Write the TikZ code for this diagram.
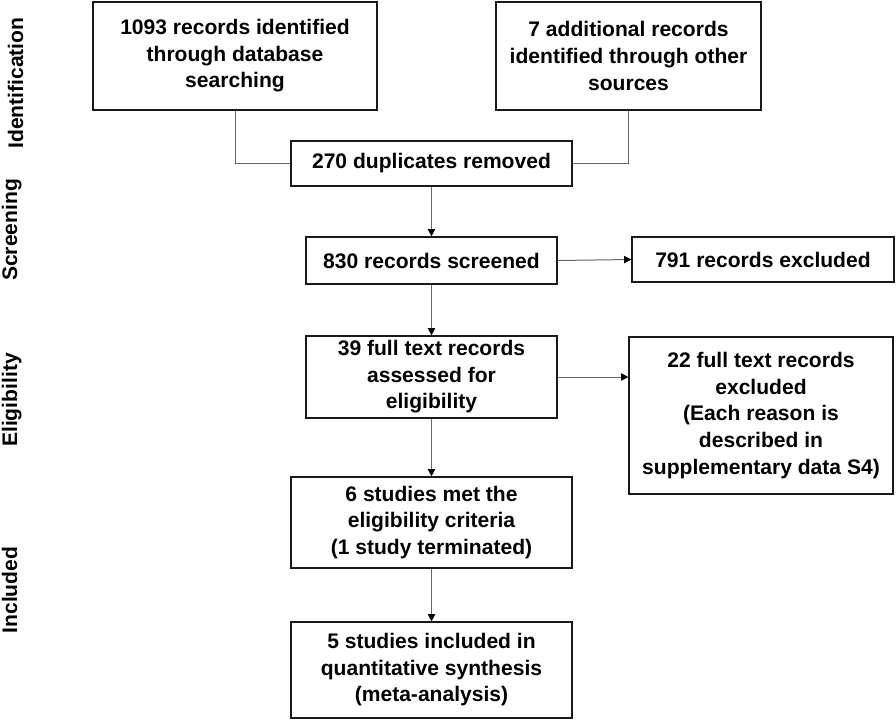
\documentclass[tikz,border=0pt]{standalone}
\usepackage{fontspec}
\setmainfont{Liberation Sans}
\usetikzlibrary{arrows.meta}
\tikzset{
  box/.style 2 args={draw=black!90, line width=0.9pt, fill=white, align=center, inner sep=0pt,
    minimum width=#1*0.75pt, minimum height=#2*0.75pt,
    font=\fontsize{15.8}{19.9}\selectfont\bfseries},
  side/.style={rotate=90, anchor=base, font=\fontsize{15.8}{19.9}\selectfont\bfseries},
  link/.style={draw=black!60, line width=0.75pt},
  flow/.style={link, -{Triangle[length=5.5pt,width=5.5pt,color=black]}}
}
\begin{document}
\begin{tikzpicture}[x=0.75pt,y=-0.75pt]
\useasboundingbox (0,0) rectangle (896,721);
\node[side] (ident) at (23,83) {Identification};
\node[side] (screen) at (17,230) {Screening};
\node[side] (elig) at (17,400) {Eligibility};
\node[side] (incl) at (17,590) {Included};
\node[box={284}{108}] (db) at (235,56) {1093 records identified\\through database\\searching};
\node[box={265}{108}] (other) at (628.5,56) {7 additional records\\identified through other\\sources};
\node[box={281}{45}] (dup) at (431.5,163.5) {270 duplicates removed};
\node[box={251}{47}] (scr) at (431.5,260.5) {830 records screened};
\node[box={262}{45}] (exc) at (763,259.5) {791 records excluded};
\node[box={251}{82}] (full) at (431.5,377) {39 full text records\\assessed for\\eligibility};
\node[box={264}{157}] (fexc) at (761,415.5) {22 full text records\\excluded\\(Each reason is\\described in\\supplementary data S4)};
\node[box={281}{91}] (met) at (431.5,522.5) {6 studies met the\\eligibility criteria\\(1 study terminated)};
\node[box={281}{96}] (quant) at (431.5,670) {5 studies included in\\quantitative synthesis\\(meta-analysis)};
\draw[link] (db.south) |- (dup.west);
\draw[link] (other.south) |- (dup.east);
\draw[flow] (dup.south) -- (scr.north);
\draw[flow] (scr.east) -- (exc.west);
\draw[flow] (scr.south) -- (full.north);
\draw[flow] (full.east) -- (full.east -| fexc.west);
\draw[flow] (full.south) -- (met.north);
\draw[flow] (met.south) -- (quant.north);
\end{tikzpicture}
\end{document}
